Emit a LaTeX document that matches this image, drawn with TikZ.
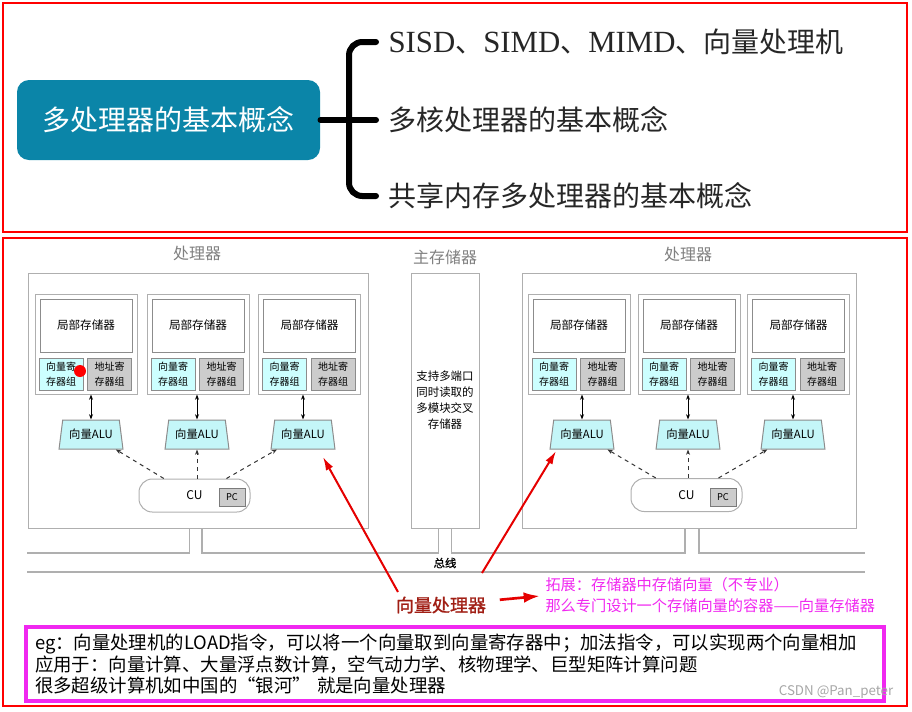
\documentclass[tikz,border=0pt]{standalone}
\usepackage{fontspec}
\setmainfont{Noto Sans CJK SC}
\newfontfamily\latinserif{Liberation Serif}[Scale=1.1]
\newfontfamily\cjkbold{Noto Sans CJK SC}[FakeBold=1.2]
\usetikzlibrary{shapes.geometric,arrows.meta}

\definecolor{conceptteal}{RGB}{11,133,168}
\definecolor{vregcyan}{RGB}{204,255,255}
\definecolor{alucyan}{RGB}{196,246,248}
\definecolor{areggray}{RGB}{204,204,204}
\definecolor{boxline}{RGB}{175,175,175}
\definecolor{labelgray}{RGB}{128,128,128}
\definecolor{darkred}{RGB}{160,30,20}
\definecolor{notemagenta}{RGB}{240,40,240}

\tikzset{every picture/.style={line width=0.75pt}}
\tikzset{
  concept/.style={fill=conceptteal, rounded corners=9pt, text=white, minimum width=227.25pt, minimum height=60pt, font=\fontsize{21pt}{25pt}\selectfont},
  branch/.style={anchor=west, inner xsep=9pt, inner ysep=0pt, text=black!85, font=\fontsize{21pt}{25pt}\selectfont},
  brace/.style={line width=4.5pt, rounded corners=10pt, line cap=round},
  frame/.style={draw=red, line width=1.5pt},
  biglabel/.style={text=labelgray, font=\fontsize{12pt}{14pt}\selectfont},
  procbox/.style={draw=boxline, minimum height=191.25pt},
  unitbox/.style={draw=boxline, minimum width=76.5pt, minimum height=75pt},
  lmbox/.style={draw=boxline!80!black, fill=white, minimum width=69pt, minimum height=39.75pt, font=\fontsize{8.7pt}{10pt}\selectfont},
  vregbox/.style={draw=boxline!80!black, fill=vregcyan, minimum width=33pt, minimum height=24pt, inner sep=0pt, align=center, font=\fontsize{7.5pt}{11pt}\selectfont},
  aregbox/.style={vregbox, fill=areggray},
  alu/.style={trapezium, trapezium left angle=75, trapezium right angle=75, trapezium stretches=true, draw=boxline!80!black, fill=alucyan, minimum width=48pt, minimum height=21.75pt, inner sep=0pt, font=\fontsize{8.5pt}{10pt}\selectfont},
  cubox/.style={draw=boxline, rounded corners=10pt, minimum width=83.25pt, minimum height=24.75pt, font=\fontsize{9pt}{10pt}\selectfont},
  pcbox/.style={draw=boxline!70!black, fill=areggray, minimum width=19.5pt, minimum height=13.5pt, inner sep=0pt, font=\fontsize{7pt}{8pt}\selectfont},
  membox/.style={draw=boxline, minimum width=51pt, minimum height=191.25pt, align=center, font=\fontsize{8.6pt}{12pt}\selectfont},
  link/.style={{Stealth[length=4pt,width=3pt]}-{Stealth[length=4pt,width=3pt]}, black},
  ctrl/.style={-{Stealth[length=4pt,width=3pt]}, dashed, black!80},
  bus/.style={draw=boxline, line width=1.2pt},
  pointer/.style={red!90!black, line width=1.5pt, -{Latex[length=10pt,width=6pt]}},
  egbox/.style={draw=notemagenta, line width=3pt, text width=630pt, inner xsep=6.75pt, minimum height=55.5pt, align=left, font=\fontsize{13.8pt}{16.1pt}\selectfont},
}

\begin{document}
\begin{tikzpicture}[x=0.75pt,y=0.75pt,yscale=-1,xscale=1]
\useasboundingbox (0,0) rectangle (912,711);

% top: mind map
\draw[frame] (3,3) rectangle (907,232);
\node[concept] (concept) at (168.5,120) {多处理器的基本概念};
\node[branch] (branch1) at (376,42) {{\latinserif SISD}、{\latinserif SIMD}、{\latinserif MIMD}、向量处理机};
\node[branch] (branch2) at (376,120) {多核处理器的基本概念};
\node[branch] (branch3) at (376,196) {共享内存多处理器的基本概念};
\coordinate (fork) at (349,120);
\draw[brace] (branch1.west) -| (fork) |- (branch3.west);
\draw[brace] (concept.east) -- (branch2.west);

% bottom: vector processor
\draw[frame] (3,238) rectangle (907,706);

\node[biglabel] (labelL) at (197,253) {处理器};
\node[biglabel] (labelM) at (445,257) {主存储器};
\node[biglabel] (labelR) at (688,254) {处理器};

\node[procbox, minimum width=255pt] (procL) at (198,400.5) {};
\node[procbox, minimum width=250.5pt] (procR) at (689,400.5) {};
\node[membox] (mem) at (445,400.5) {支持多端口\\同时读取的\\多模块交叉\\存储器};

\foreach \n/\cx/\ax in {1/86/91, 2/198/197, 3/309.5/303, 4/579/582, 5/689/688, 6/798.5/793} {
  \node[unitbox] (unit\n) at (\cx,344) {};
  \node[lmbox] (lm\n) at (\cx,325.5) {局部存储器};
  \node[vregbox] (vreg\n) at (\cx-25,374) {向量寄\\存器组};
  \node[aregbox] (areg\n) at (\cx+23.5,374) {地址寄\\存器组};
  \node[alu] (alu\n) at (\ax,434.5) {向量ALU};
  \draw[link] (alu\n.north |- unit\n.south) -- (alu\n.north);
}

\node[cubox] (cuL) at (194.5,495.5) {CU};
\node[pcbox] (pcL) at (232,497) {PC};
\node[cubox] (cuR) at (686.5,495) {CU};
\node[pcbox] (pcR) at (723,497) {PC};

\draw[ctrl] (cuL.151) -- (alu1);
\draw[ctrl] (alu2.south |- cuL.north) -- (alu2.south);
\draw[ctrl] (cuL.28) -- (alu3);
\draw[ctrl] (cuR.151) -- (alu4);
\draw[ctrl] (alu5.south |- cuR.north) -- (alu5.south);
\draw[ctrl] (cuR.28) -- (alu6);

\fill[red] (80,371) circle (6);

% bus
\coordinate (busW) at (27,553);
\coordinate (busE) at (865,553);
\coordinate (busW2) at (27,572);
\coordinate (busE2) at (865,572);
\draw[bus] (busW) -| ([xshift=-6.5pt]procL.south);
\draw[bus] ([xshift=3pt]procL.south) |- ([xshift=-5pt]mem.south |- busW) -- ([xshift=-5pt]mem.south);
\draw[bus] ([xshift=5pt]mem.south) |- ([xshift=-3pt]procR.south |- busW) -- ([xshift=-3pt]procR.south);
\draw[bus] ([xshift=7.5pt]procR.south) |- (busE);
\draw[bus] (busW2) -- (busE2);
\node[font=\cjkbold\fontsize{8.5pt}{10pt}\selectfont] (busLabel) at (445,563) {总线};

% notes
\node[text=darkred, inner sep=0pt, font=\cjkbold\fontsize{13.5pt}{15pt}\selectfont] (vp) at (441,605) {向量处理器};
\coordinate (vpL) at (398,592);
\coordinate (vpR) at (482,573);
\coordinate (tipL) at (323,457);
\coordinate (tipR) at (556,451);
\draw[pointer] (vpL) -- (tipL);
\draw[pointer] (vpR) -- (tipR);
\node[anchor=west, inner sep=0pt, text=notemagenta, align=left, font=\fontsize{11.4pt}{15.75pt}\selectfont] (ext) at (545,595.5) {拓展：存储器中存储向量（不专业）\\那么专门设计一个存储向量的容器——向量存储器};
\draw[pointer, line width=2pt, -{Latex[length=12pt,width=8pt]}, shorten <=10pt, shorten >=4pt] ([yshift=-3pt]vp.east) -- (ext.west);

\node[egbox] (eg) at (455,664) {eg：向量处理机的LOAD指令，可以将一个向量取到向量寄存器中；加法指令，可以实现两个向量相加\\应用于：向量计算、大量浮点数计算，空气动力学、核物理学、巨型矩阵计算问题\\很多超级计算机如中国的“银河” 就是向量处理器};
\node[text=black!35, font=\fontsize{10pt}{12pt}\selectfont] (mark) at (836,692) {CSDN @Pan\_peter};

\end{tikzpicture}
\end{document}
